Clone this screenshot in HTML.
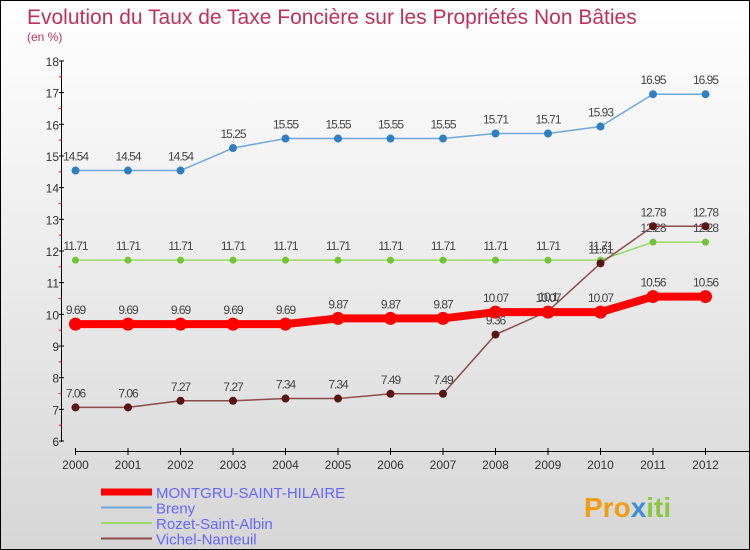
<!DOCTYPE html>
<html><head><meta charset="utf-8"><style>
body{margin:0}
#c{width:748px;height:548px;border:1px solid #000;background:linear-gradient(#fff,#d6d6d6);position:relative;overflow:hidden;font-family:"Liberation Sans",sans-serif}
</style></head><body>
<div id="c">
<svg id="s" width="748" height="548">
<text x="26" y="23" font-size="21" fill="#c0305a">Evolution du Taux de Taxe Foncière sur les Propriétés Non Bâties</text>
<text x="26" y="40" font-size="12" fill="#c0305a">(en %)</text>
<g id="axes"></g><g id="series"></g><g id="legend"></g>
<text x="583" y="516" font-size="28" font-weight="bold" fill="#f39c12">Pro<tspan fill="#3b8fd8">x</tspan><tspan fill="#8cc63f">iti</tspan></text>
</svg></div>
<script>
const years=[2000,2001,2002,2003,2004,2005,2006,2007,2008,2009,2010,2011,2012];
const yTicks=[6,7,8,9,10,11,12,13,14,15,16,17,18];
const montgru=[9.69,9.69,9.69,9.69,9.69,9.87,9.87,9.87,10.07,10.07,10.07,10.56,10.56];
const breny=[14.54,14.54,14.54,15.25,15.55,15.55,15.55,15.55,15.71,15.71,15.93,16.95,16.95];
const rozet=[11.71,11.71,11.71,11.71,11.71,11.71,11.71,11.71,11.71,11.71,11.71,12.28,12.28];
const vichel=[7.06,7.06,7.27,7.27,7.34,7.34,7.49,7.49,9.36,10.1,11.61,12.78,12.78];
const names=["MONTGRU-SAINT-HILAIRE","Breny","Rozet-Saint-Albin","Vichel-Nanteuil"];
const NS="http://www.w3.org/2000/svg";
const X=i=>74.5+i*52.5, Y=v=>440-(v-6)*31.67;
function mk(tag,at,p){const e=document.createElementNS(NS,tag);for(const k in at)e.setAttribute(k,at[k]);p.appendChild(e);return e;}
const ax=document.getElementById('axes');
const ya=mk('line',{x1:60.5,y1:60,x2:60.5,y2:441,stroke:'#000','stroke-width':1},ax);

yTicks.forEach(t=>{const y=Y(t);mk('line',{x1:58,x2:63,y1:y,y2:y,stroke:'#000'},ax);
 if(t<18)mk('line',{x1:58,x2:61,y1:Y(t+0.5),y2:Y(t+0.5),stroke:'#f00'},ax);
 const tx=mk('text',{x:58,y:y+5,'font-size':12,'text-anchor':'end',fill:'#333'},ax);tx.textContent=t;
 });
const xa=mk('line',{x1:74,y1:450.5,x2:748,y2:450.5,stroke:'#000'},ax);

years.forEach((yr,i)=>{const x=X(i);mk('line',{x1:x,x2:x,y1:447,y2:454,stroke:'#000'},ax);
 const tx=mk('text',{x:x,y:468,'font-size':12,'text-anchor':'middle',fill:'#333'},ax);tx.textContent=yr;
 });
const sg=document.getElementById('series');
const defs=[[breny,'#6fa8d8',1.5,'#2f7fc1',4,'breny'],[rozet,'#99d96a',1.5,'#72c335',3.5,'rozet'],[vichel,'#8b4a4a',1.5,'#5a1414',4,'vichel'],[montgru,'#f00',8,'#f00',6.5,'montgru']];
defs.forEach(([d,lc,lw,pc,r,n])=>{
 const pl=mk('polyline',{points:d.map((v,i)=>X(i)+','+Y(v)).join(' '),fill:'none',stroke:lc,'stroke-width':lw},sg);
 
 d.forEach((v,i)=>{const c=mk('circle',{cx:X(i),cy:Y(v),r:r,fill:pc},sg);
  
  const t=mk('text',{x:X(i),y:Y(v)-10,'font-size':12,'text-anchor':'middle',fill:'#444','letter-spacing':'-1'},sg);t.textContent=v;
  });
});
const lg=document.getElementById('legend');
const lcols=['#f00','#6fa8d8','#99d96a','#8b4a4a'],lws=[7,2,2,2];
names.forEach((nm,i)=>{const y=491+i*15.5;
 const l=mk('line',{x1:100,x2:151,y1:y,y2:y,stroke:lcols[i],'stroke-width':lws[i]},lg);
 
 const t=mk('text',{x:155,y:y+6,'font-size':15,fill:'#6666ff'},lg);t.textContent=nm;
 });
</script></body></html>
